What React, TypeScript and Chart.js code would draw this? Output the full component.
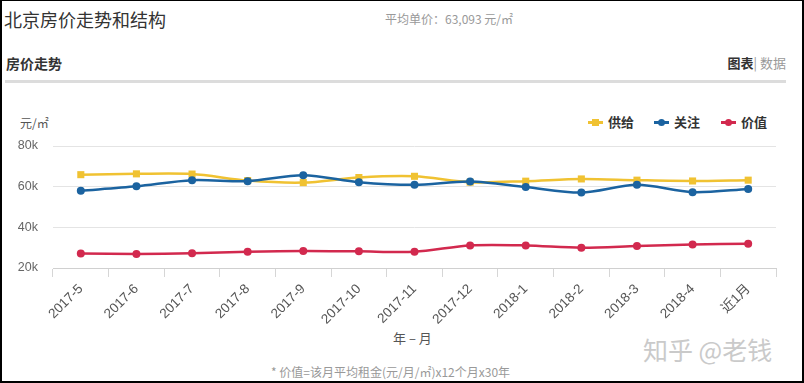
import React, { useEffect, useRef } from "react";
import { Chart, registerables } from "chart.js";

Chart.register(...registerables);

const categories = [
  "2017-5", "2017-6", "2017-7", "2017-8", "2017-9", "2017-10", "2017-11",
  "2017-12", "2018-1", "2018-2", "2018-3", "2018-4", "近1月",
];
const supplyValues = [65900, 66300, 66200, 63000, 62000, 64500, 65100, 62200, 62700, 63800, 63200, 62800, 63200];
const attentionValues = [58000, 60200, 63200, 62700, 65600, 62200, 60900, 62500, 59800, 57100, 60900, 57300, 58900];
const valueValues = [27100, 26900, 27200, 28000, 28400, 28200, 28000, 31100, 31100, 30000, 30800, 31600, 31900];
const yMin = 20000;
const yMax = 80000;
const yStep = 20000;

const YELLOW = "#f0c232";
const BLUE = "#1b63a0";
const RED = "#d2294e";

const SANS = "Arial, 'Liberation Sans', 'Noto Sans CJK SC', sans-serif";
const CJK = "'Noto Sans CJK SC', 'Liberation Sans', sans-serif";

function LegendItem({ color, shape, label, left }: { color: string; shape: "rect" | "circle"; label: string; left: number }) {
  return (
    <div style={{ position: "absolute", left, top: 113, height: 18, display: "flex", alignItems: "center" }}>
      <div style={{ position: "relative", width: 15, height: 18 }}>
        <div style={{ position: "absolute", left: 0, top: 8, width: 15, height: 2.5, background: color }} />
        <div
          style={{
            position: "absolute",
            left: 4,
            top: 5.5,
            width: 7,
            height: 7,
            background: color,
            borderRadius: shape === "circle" ? "50%" : 0,
          }}
        />
      </div>
      <span style={{ marginLeft: 5, fontFamily: CJK, fontWeight: 700, fontSize: 13, color: "#333", lineHeight: "18px" }}>{label}</span>
    </div>
  );
}

export default function App() {
  const canvasRef = useRef<HTMLCanvasElement | null>(null);

  useEffect(() => {
    const canvas = canvasRef.current;
    if (!canvas) return;
    const chart = new Chart(canvas, {
      type: "line",
      data: {
        labels: categories,
        datasets: [
          {
            label: "供给",
            data: supplyValues,
            borderColor: YELLOW,
            backgroundColor: YELLOW,
            borderWidth: 2.5,
            pointStyle: "rect",
            pointRadius: 5,
            pointBorderWidth: 0,
            tension: 0.3,
            order: 2,
          },
          {
            label: "关注",
            data: attentionValues,
            borderColor: BLUE,
            backgroundColor: BLUE,
            borderWidth: 2.5,
            pointStyle: "circle",
            pointRadius: 4,
            pointBorderWidth: 0,
            tension: 0.3,
            order: 1,
          },
          {
            label: "价值",
            data: valueValues,
            borderColor: RED,
            backgroundColor: RED,
            borderWidth: 2.5,
            pointStyle: "circle",
            pointRadius: 4,
            pointBorderWidth: 0,
            tension: 0.3,
            order: 0,
          },
        ],
      },
      options: {
        animation: false,
        responsive: false,
        devicePixelRatio: 1,
        layout: { padding: { top: 146, right: 28, left: 0, bottom: 0 } },
        plugins: { legend: { display: false }, tooltip: { enabled: false } },
        scales: {
          x: {
            offset: true,
            grid: { drawOnChartArea: false, drawTicks: true, tickLength: 9, color: "#d6d6d6", offset: true },
            border: { display: true, color: "#d0d0d0" },
            ticks: {
              autoSkip: false,
              minRotation: 45,
              maxRotation: 45,
              padding: 4,
              color: "#555",
              font: { family: SANS, size: 13.5 },
            },
            afterFit: (scale: any) => {
              scale.height = 115;
            },
          },
          y: {
            min: yMin,
            max: yMax,
            grid: { drawTicks: false, color: "#e4e4e4" },
            border: { display: false },
            ticks: {
              stepSize: yStep,
              padding: 15,
              color: "#666",
              font: { family: SANS, size: 12.5 },
              callback: (v: any) => Number(v) / 1000 + "k",
            },
            afterFit: (scale: any) => {
              scale.width = 53;
            },
          },
        },
      },
    });
    return () => chart.destroy();
  }, []);

  return (
    <div style={{ position: "fixed", left: 0, top: 0, width: 804, height: 383, background: "#000", overflow: "hidden" }}>
      <div style={{ position: "absolute", left: 2, top: 1, width: 800, height: 380, background: "#fff" }} />
      <div style={{ position: "absolute", left: 4, top: 8, fontFamily: CJK, fontSize: 18, lineHeight: "22px", color: "#333" }}>
        北京房价走势和结构
      </div>
      <div style={{ position: "absolute", left: 385, top: 11, fontFamily: CJK, fontSize: 12, lineHeight: "16px", color: "#999" }}>
        平均单价：63,093 元/㎡
      </div>
      <div style={{ position: "absolute", left: 6, top: 53, fontFamily: CJK, fontSize: 14, fontWeight: 700, lineHeight: "20px", color: "#333" }}>
        房价走势
      </div>
      <div style={{ position: "absolute", right: 804 - 786, top: 55, fontFamily: CJK, fontSize: 13, lineHeight: "16px", color: "#999", whiteSpace: "nowrap" }}>
        <span style={{ color: "#333", fontWeight: 700 }}>图表</span>| 数据
      </div>
      <div style={{ position: "absolute", left: 5, top: 80, width: 781, height: 3, background: "#dcdcdc" }} />
      <div style={{ position: "absolute", left: 20, top: 115, fontFamily: CJK, fontSize: 12, lineHeight: "16px", color: "#555" }}>
        元/㎡
      </div>
      <LegendItem color={YELLOW} shape="rect" label="供给" left={588} />
      <LegendItem color={BLUE} shape="circle" label="关注" left={654} />
      <LegendItem color={RED} shape="circle" label="价值" left={721} />
      <div style={{ position: "absolute", left: 393, top: 330, fontFamily: CJK, fontSize: 13, lineHeight: "16px", color: "#555", whiteSpace: "nowrap" }}>
        年 – 月
      </div>
      <div style={{ position: "absolute", left: 643, top: 335, fontFamily: CJK, fontSize: 25, lineHeight: "28px", color: "#cacaca", whiteSpace: "nowrap" }}>
        知乎 @老钱
      </div>
      <div style={{ position: "absolute", left: 271, top: 364, fontFamily: CJK, fontSize: 12, lineHeight: "16px", color: "#999", whiteSpace: "nowrap" }}>
        * 价值=该月平均租金(元/月/㎡)x12个月x30年
      </div>
      <canvas ref={canvasRef} width={804} height={383} style={{ position: "absolute", left: 0, top: 0, width: 804, height: 383 }} />
    </div>
  );
}
